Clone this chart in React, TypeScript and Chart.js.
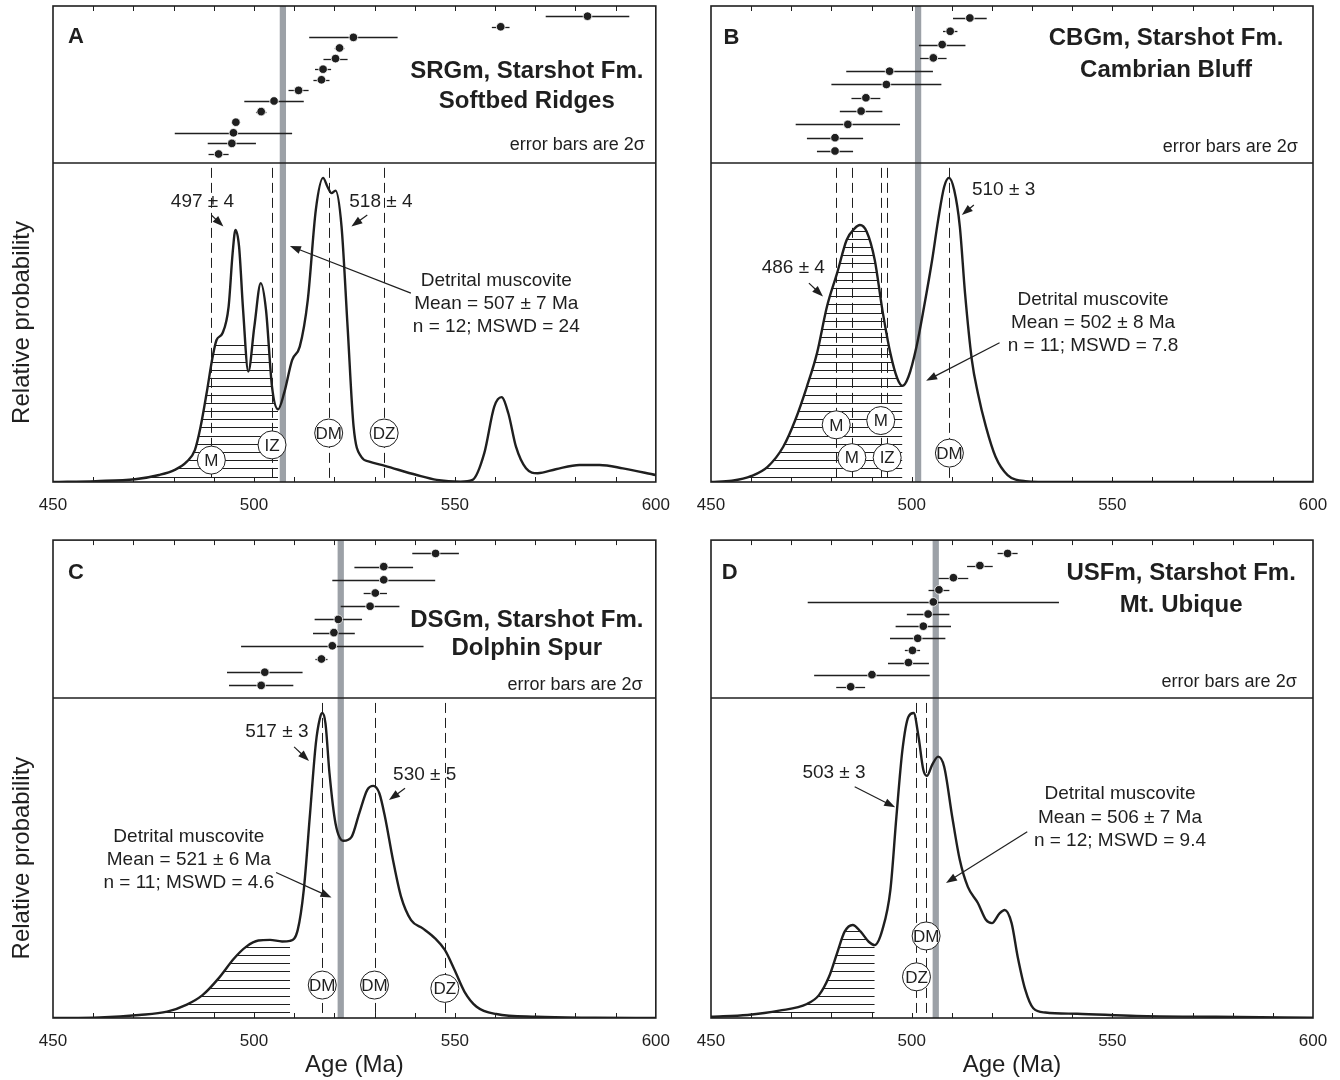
import React, { useEffect, useRef } from "react";
import { Chart, registerables } from "chart.js";

Chart.register(...registerables);

const FONT = '"Liberation Sans", Arial, Helvetica, sans-serif';
const INK = "#1f1f1f";
const GREY = "#9ca1a7";

// ---------------- Panel A : SRGm, Softbed Ridges ----------------
const curveAgeA = [450, 460.6, 470.4, 476.4, 480.3, 483.3, 485.3, 486.7, 488.2, 489.7, 490.7, 492.2, 493.7, 494.7, 495.4, 496.3, 497.3, 498.6, 500.1, 501.7, 503, 504.5, 506, 507.5, 509.5, 511.4, 513.4, 515.4, 517.2, 518.3, 519.3, 520.3, 521.8, 523.3, 524.8, 526.7, 528.7, 532.6, 540.5, 545.5, 551.4, 554.4, 557.3, 559.8, 561.6, 563.3, 565.2, 567.7, 570.6, 575.1, 581, 586, 591.8, 600];
const curveProbA = [0, 0.003, 0.009, 0.023, 0.04, 0.067, 0.105, 0.18, 0.29, 0.41, 0.467, 0.49, 0.577, 0.753, 0.829, 0.774, 0.566, 0.363, 0.511, 0.654, 0.566, 0.313, 0.239, 0.292, 0.401, 0.445, 0.599, 0.895, 1.0, 0.971, 0.95, 0.958, 0.84, 0.511, 0.182, 0.083, 0.067, 0.053, 0.023, 0.007, 0.001, 0.007, 0.094, 0.248, 0.279, 0.226, 0.116, 0.045, 0.029, 0.042, 0.056, 0.056, 0.045, 0.023];
const grainAgeA = [491.2, 494.5, 494.9, 495.5, 501.8, 505.0, 511.1, 516.8, 517.2, 520.3, 521.3, 524.75, 561.4, 583.0];
const grainErrA = [2.5, 6, 14.6, 0.6, 1.3, 7.4, 2.5, 2, 2, 3, 1.2, 11, 2.2, 10.4];
const meanA = 507.2;
const dashAgeA = [489.4, 504.5, 518.6, 532.4];
const tagTextA = ["M", "IZ", "DM", "DZ"];
const tagAgeA = [489.4, 504.5, 518.6, 532.4];
const tagProbA = [0.072, 0.122, 0.161, 0.161];
const peakTextA = ["497 ± 4", "518 ± 4"];
const peakAgeA = [487.2, 531.6];
const peakProbA = [0.922, 0.922];
const peakArrowA = [[489.4, 0.878, 492.4, 0.84], [528.2, 0.878, 524.25, 0.84]];
const noteTextA = ["Detrital muscovite", "Mean = 507 ± 7 Ma", "n = 12; MSWD = 24"];
const noteAgeA = 560.3;
const noteProbA = [0.662, 0.586, 0.511];
const noteArrowA = [539.05, 0.621, 508.95, 0.776];

// ---------------- Panel B : CBGm, Cambrian Bluff ----------------
const curveAgeB = [450, 455.2, 460.1, 464.1, 468, 471, 473.9, 476.4, 478.9, 481.4, 483.8, 485.8, 487.1, 488.8, 490.8, 492.7, 494.7, 496.4, 497.7, 499.2, 501.2, 503.1, 505.1, 506.6, 508.1, 509.3, 510.6, 512, 513.3, 515, 516.5, 518.5, 520.9, 523.9, 528.3, 536, 600];
const curveProbB = [0, 0.004, 0.02, 0.05, 0.116, 0.204, 0.314, 0.423, 0.577, 0.686, 0.796, 0.834, 0.845, 0.823, 0.73, 0.566, 0.423, 0.341, 0.316, 0.346, 0.445, 0.577, 0.73, 0.862, 0.971, 1.0, 0.96, 0.84, 0.62, 0.401, 0.292, 0.182, 0.083, 0.023, 0.003, 0, 0];
const grainAgeB = [480.9, 480.9, 484.1, 487.4, 488.6, 493.7, 494.5, 505.4, 507.6, 509.6, 514.5];
const grainErrB = [4.5, 7, 13, 5.3, 3.6, 13.7, 10.8, 3.3, 5.8, 1.8, 4.2];
const meanB = 501.6;
const dashAgeB = [481.2, 485.1, 492.3, 493.9, 509.4];
const tagTextB = ["M", "M", "M", "IZ", "DM"];
const tagAgeB = [481.2, 492.3, 485.1, 493.9, 509.4];
const tagProbB = [0.188, 0.202, 0.08, 0.08, 0.095];
const peakTextB = ["486 ± 4", "510 ± 3"];
const peakAgeB = [470.5, 522.9];
const peakProbB = [0.703, 0.961];
const peakArrowB = [[474.4, 0.654, 477.9, 0.61], [515.5, 0.911, 512.5, 0.878]];
const noteTextB = ["Detrital muscovite", "Mean = 502 ± 8 Ma", "n = 11; MSWD = 7.8"];
const noteAgeB = 545.2;
const noteProbB = [0.599, 0.522, 0.447];
const noteArrowB = [521.9, 0.458, 503.6, 0.333];

// ---------------- Panel C : DSGm, Dolphin Spur ----------------
const curveAgeC = [450, 461.6, 471.4, 478.4, 483.3, 487.2, 491.2, 495.1, 498.1, 501.1, 504, 507, 509, 510.9, 512.4, 513.9, 515.4, 516.4, 517, 517.8, 518.8, 520.3, 522.3, 524.3, 526.2, 528.2, 529.7, 531.2, 532.6, 534.6, 536.6, 539.1, 542, 545, 547.5, 549.9, 552.4, 555.4, 560.3, 570.2, 585, 600];
const curveProbC = [0, 0.002, 0.01, 0.021, 0.044, 0.075, 0.13, 0.196, 0.234, 0.254, 0.256, 0.251, 0.253, 0.289, 0.42, 0.66, 0.9, 0.982, 1.0, 0.966, 0.802, 0.638, 0.581, 0.594, 0.671, 0.748, 0.761, 0.737, 0.66, 0.518, 0.398, 0.321, 0.294, 0.262, 0.223, 0.158, 0.086, 0.037, 0.013, 0.004, 0.001, 0];
const grainAgeC = [501.8, 502.7, 516.8, 519.5, 519.9, 521.0, 528.9, 530.2, 532.3, 532.3, 545.2];
const grainErrC = [8, 9.4, 1.5, 22.7, 5.2, 5.9, 7.3, 2.9, 12.8, 7.3, 5.8];
const meanC = 521.6;
const dashAgeC = [517, 530, 547.5];
const tagTextC = ["DM", "DM", "DZ"];
const tagAgeC = [517, 530, 547.5];
const tagProbC = [0.108, 0.108, 0.097];
const peakTextC = ["517 ± 3", "530 ± 5"];
const peakAgeC = [505.7, 542.5];
const peakProbC = [0.939, 0.797];
const peakArrowC = [[510, 0.889, 513.7, 0.843], [537.6, 0.753, 533.6, 0.715]];
const noteTextC = ["Detrital muscovite", "Mean = 521 ± 6 Ma", "n = 11; MSWD = 4.6"];
const noteAgeC = 483.8;
const noteProbC = [0.594, 0.518, 0.443];
const noteArrowC = [505.5, 0.477, 519.3, 0.395];

// ---------------- Panel D : USFm, Mt. Ubique ----------------
const curveAgeD = [450, 459.1, 467, 473.9, 476.9, 479.4, 481.4, 483.3, 485.3, 487.3, 489.3, 490.8, 492.7, 494.7, 496.2, 497.7, 499.2, 500.5, 501.7, 502.9, 503.8, 505.1, 506.6, 508.1, 510.1, 512, 514, 516.5, 518.5, 520, 521.9, 523.2, 524.9, 526.4, 528.3, 530.3, 533.3, 541.2, 556, 575.8, 600];
const curveProbD = [0.004, 0.01, 0.024, 0.046, 0.075, 0.135, 0.212, 0.283, 0.305, 0.283, 0.25, 0.239, 0.289, 0.42, 0.66, 0.879, 0.988, 1.0, 0.923, 0.814, 0.794, 0.83, 0.857, 0.824, 0.66, 0.518, 0.43, 0.377, 0.322, 0.311, 0.343, 0.354, 0.311, 0.202, 0.093, 0.032, 0.018, 0.014, 0.007, 0.004, 0.001];
const grainAgeD = [484.8, 490.1, 499.2, 500.2, 501.5, 502.9, 504.1, 505.4, 506.8, 510.4, 517.0, 523.9];
const grainErrD = [3.6, 14.4, 5.1, 1.9, 6.9, 6.9, 5.3, 31.3, 2.6, 3.7, 3.2, 2.5];
const meanD = 506.0;
const dashAgeD = [501.2, 503.6];
const tagTextD = ["DM", "DZ"];
const tagAgeD = [503.6, 501.2];
const tagProbD = [0.269, 0.135];
const peakTextD = ["503 ± 3"];
const peakAgeD = [480.65];
const peakProbD = [0.804];
const peakArrowD = [[485.8, 0.758, 495.9, 0.691]];
const noteTextD = ["Detrital muscovite", "Mean = 506 ± 7 Ma", "n = 12; MSWD = 9.4"];
const noteAgeD = 551.9;
const noteProbD = [0.734, 0.658, 0.581];
const noteArrowD = [528.8, 0.611, 508.55, 0.443];

const xTickLabels = [450, 500, 550, 600];

type Panel = {
  letter: string;
  title: string[];
  curveAge: number[];
  curveProb: number[];
  grainAge: number[];
  grainErr: number[];
  mean: number;
  dashAge: number[];
  tagText: string[];
  tagAge: number[];
  tagProb: number[];
  peakText: string[];
  peakAge: number[];
  peakProb: number[];
  peakArrow: number[][];
  noteText: string[];
  noteAge: number;
  noteProb: number[];
  noteArrow: number[];
  hatchMax: number;
  hatchCap: number;
  rankMin: number;
  rankMax: number;
  box: { x: number; y: number; w: number; h: number };
  pad: { left: number; right: number; top: number; bottom: number };
  axisH: number;
  upperW: number;
  lowerW: number;
  yTitle: boolean;
  xTitle: boolean;
  letterPos: number[];
  titlePos: number[];
  notePos: number[];
};

const panels: Panel[] = [
  {
    letter: "A", title: ["SRGm, Starshot Fm.", "Softbed Ridges"],
    curveAge: curveAgeA, curveProb: curveProbA, grainAge: grainAgeA, grainErr: grainErrA,
    mean: meanA, dashAge: dashAgeA, tagText: tagTextA, tagAge: tagAgeA, tagProb: tagProbA,
    peakText: peakTextA, peakAge: peakAgeA, peakProb: peakProbA, peakArrow: peakArrowA,
    noteText: noteTextA, noteAge: noteAgeA, noteProb: noteProbA, noteArrow: noteArrowA,
    hatchMax: 506, hatchCap: 0.474, rankMin: 0.15, rankMax: 14.96,
    box: { x: 0, y: 0, w: 670, h: 535 }, pad: { left: 8, right: 14, top: 6, bottom: 0 },
    axisH: 53, upperW: 157, lowerW: 319, yTitle: true, xTitle: false,
    letterPos: [0.038, 0.2], titlePos: [0.786, 0.418, 0.61], notePos: [0.982, 0.885],
  },
  {
    letter: "B", title: ["CBGm, Starshot Fm.", "Cambrian Bluff"],
    curveAge: curveAgeB, curveProb: curveProbB, grainAge: grainAgeB, grainErr: grainErrB,
    mean: meanB, dashAge: dashAgeB, tagText: tagTextB, tagAge: tagAgeB, tagProb: tagProbB,
    peakText: peakTextB, peakAge: peakAgeB, peakProb: peakProbB, peakArrow: peakArrowB,
    noteText: noteTextB, noteAge: noteAgeB, noteProb: noteProbB, noteArrow: noteArrowB,
    hatchMax: 497.7, hatchCap: 2, rankMin: 0.098, rankMax: 11.9,
    box: { x: 670, y: 0, w: 670, h: 535 }, pad: { left: 41, right: 27, top: 6, bottom: 0 },
    axisH: 53, upperW: 157, lowerW: 319, yTitle: false, xTitle: false,
    letterPos: [0.034, 0.206], titlePos: [0.756, 0.206, 0.408], notePos: [0.975, 0.898],
  },
  {
    letter: "C", title: ["DSGm, Starshot Fm.", "Dolphin Spur"],
    curveAge: curveAgeC, curveProb: curveProbC, grainAge: grainAgeC, grainErr: grainErrC,
    mean: meanC, dashAge: dashAgeC, tagText: tagTextC, tagAge: tagAgeC, tagProb: tagProbC,
    peakText: peakTextC, peakAge: peakAgeC, peakProb: peakProbC, peakArrow: peakArrowC,
    noteText: noteTextC, noteAge: noteAgeC, noteProb: noteProbC, noteArrow: noteArrowC,
    hatchMax: 509, hatchCap: 2, rankMin: 0.04, rankMax: 12.01,
    box: { x: 0, y: 535, w: 670, h: 545 }, pad: { left: 8, right: 14, top: 5, bottom: 0 },
    axisH: 62, upperW: 158, lowerW: 320, yTitle: true, xTitle: true,
    letterPos: [0.038, 0.211], titlePos: [0.786, 0.506, 0.685], notePos: [0.978, 0.918],
  },
  {
    letter: "D", title: ["USFm, Starshot Fm.", "Mt. Ubique"],
    curveAge: curveAgeD, curveProb: curveProbD, grainAge: grainAgeD, grainErr: grainErrD,
    mean: meanD, dashAge: dashAgeD, tagText: tagTextD, tagAge: tagAgeD, tagProb: tagProbD,
    peakText: peakTextD, peakAge: peakAgeD, peakProb: peakProbD, peakArrow: peakArrowD,
    noteText: noteTextD, noteAge: noteAgeD, noteProb: noteProbD, noteArrow: noteArrowD,
    hatchMax: 490.8, hatchCap: 2, rankMin: 0.07, rankMax: 13.1,
    box: { x: 670, y: 535, w: 670, h: 545 }, pad: { left: 41, right: 27, top: 5, bottom: 0 },
    axisH: 62, upperW: 158, lowerW: 320, yTitle: false, xTitle: true,
    letterPos: [0.031, 0.211], titlePos: [0.781, 0.209, 0.411], notePos: [0.973, 0.897],
  },
];

const PROB_MAX = 1.049;
const DASH_TOP = 1.033;
const MEAN_HALF = 0.78;

function drawArrow(ctx: CanvasRenderingContext2D, x1: number, y1: number, x2: number, y2: number) {
  const ang = Math.atan2(y2 - y1, x2 - x1);
  const L = 11, W = 4;
  const c = Math.cos(ang), s = Math.sin(ang);
  ctx.beginPath();
  ctx.moveTo(x1, y1);
  ctx.lineTo(x2 - (L - 2) * c, y2 - (L - 2) * s);
  ctx.stroke();
  ctx.beginPath();
  ctx.moveTo(x2, y2);
  ctx.lineTo(x2 - L * c + W * s, y2 - L * s - W * c);
  ctx.lineTo(x2 - L * c - W * s, y2 - L * s + W * c);
  ctx.closePath();
  ctx.fill();
}

function makeDecor(p: Panel) {
  return {
    id: "decor" + p.letter,
    beforeDatasetsDraw(chart: any) {
      const ctx: CanvasRenderingContext2D = chart.ctx;
      const area = chart.chartArea;
      const x = chart.scales.x, yP = chart.scales.yProb, yR = chart.scales.yRank;
      const base = yP.getPixelForValue(0);

      // hatch under the curve
      const meta = chart.getDatasetMeta(0);
      const line: any = meta.dataset;
      const pts: any[] = meta.data;
      if (pts && pts.length) {
        ctx.save();
        ctx.beginPath();
        if (line && typeof line.path === "function") {
          if (typeof line.updateControlPoints === "function") line.updateControlPoints(area, "x");
          line.path(ctx);
        } else {
          pts.forEach((pt, i) => (i ? ctx.lineTo(pt.x, pt.y) : ctx.moveTo(pt.x, pt.y)));
        }
        ctx.lineTo(pts[pts.length - 1].x, base);
        ctx.lineTo(pts[0].x, base);
        ctx.closePath();
        ctx.clip();
        const xr = x.getPixelForValue(p.hatchMax);
        const yc = yP.getPixelForValue(Math.min(p.hatchCap, PROB_MAX));
        ctx.beginPath();
        ctx.rect(area.left, yc, xr - area.left, base - yc);
        ctx.clip();
        ctx.strokeStyle = INK;
        ctx.lineWidth = 1;
        ctx.beginPath();
        for (let yy = base - 5.5; yy > yc; yy -= 8.2) {
          ctx.moveTo(area.left, Math.round(yy) + 0.5);
          ctx.lineTo(xr, Math.round(yy) + 0.5);
        }
        ctx.stroke();
        ctx.restore();
      }

      // dashed reference lines
      ctx.save();
      ctx.strokeStyle = INK;
      ctx.lineWidth = 1;
      ctx.setLineDash([10, 5]);
      for (const a of p.dashAge) {
        const px = Math.round(x.getPixelForValue(a)) + 0.5;
        ctx.beginPath();
        ctx.moveTo(px, yP.getPixelForValue(DASH_TOP));
        ctx.lineTo(px, base);
        ctx.stroke();
      }
      ctx.restore();

      // grey mean bar
      ctx.save();
      ctx.fillStyle = GREY;
      const g1 = x.getPixelForValue(p.mean - MEAN_HALF);
      const g2 = x.getPixelForValue(p.mean + MEAN_HALF);
      ctx.fillRect(g1, area.top, g2 - g1, area.bottom - area.top);
      ctx.restore();

      // error bars
      ctx.save();
      ctx.strokeStyle = INK;
      ctx.lineWidth = 1.3;
      p.grainAge.forEach((a, i) => {
        const py = Math.round(yR.getPixelForValue(i + 1)) + 0.5;
        ctx.beginPath();
        ctx.moveTo(x.getPixelForValue(a - p.grainErr[i]), py);
        ctx.lineTo(x.getPixelForValue(a + p.grainErr[i]), py);
        ctx.stroke();
      });
      ctx.restore();
    },
    afterDatasetsDraw(chart: any) {
      const ctx: CanvasRenderingContext2D = chart.ctx;
      const x = chart.scales.x, yP = chart.scales.yProb;
      ctx.save();
      ctx.lineWidth = 1;
      ctx.strokeStyle = INK;
      ctx.font = `17px ${FONT}`;
      ctx.textAlign = "center";
      ctx.textBaseline = "middle";
      p.tagText.forEach((t, i) => {
        const cx = x.getPixelForValue(p.tagAge[i]);
        const cy = yP.getPixelForValue(p.tagProb[i]);
        ctx.beginPath();
        ctx.arc(cx, cy, 14, 0, Math.PI * 2);
        ctx.fillStyle = "#fff";
        ctx.fill();
        ctx.stroke();
        ctx.fillStyle = INK;
        ctx.fillText(t, cx, cy + 1);
      });
      ctx.restore();
    },
    afterDraw(chart: any) {
      const ctx: CanvasRenderingContext2D = chart.ctx;
      const area = chart.chartArea;
      const x = chart.scales.x, yP = chart.scales.yProb;
      const base = yP.getPixelForValue(0);
      const divider = yP.top;
      const w = area.right - area.left;
      const hUp = divider - area.top;

      ctx.save();
      ctx.strokeStyle = INK;
      // ticks (library tick values)
      ctx.lineWidth = 1;
      ctx.beginPath();
      for (const t of x.ticks) {
        if (t.value <= x.min || t.value >= x.max) continue;
        const px = Math.round(x.getPixelForValue(t.value)) + 0.5;
        ctx.moveTo(px, area.top);
        ctx.lineTo(px, area.top + 5);
        ctx.moveTo(px, base);
        ctx.lineTo(px, base - 5);
      }
      ctx.stroke();
      // frame and divider
      ctx.lineWidth = 1.6;
      ctx.strokeRect(area.left, area.top, w, area.bottom - area.top);
      ctx.beginPath();
      ctx.moveTo(area.left, divider);
      ctx.lineTo(area.right, divider);
      ctx.stroke();

      // upper box texts
      ctx.fillStyle = INK;
      ctx.textBaseline = "middle";
      ctx.textAlign = "center";
      ctx.font = `bold 22px ${FONT}`;
      ctx.fillText(p.letter, area.left + p.letterPos[0] * w, area.top + p.letterPos[1] * hUp);
      ctx.font = `bold 24px ${FONT}`;
      ctx.fillText(p.title[0], area.left + p.titlePos[0] * w, area.top + p.titlePos[1] * hUp);
      ctx.fillText(p.title[1], area.left + p.titlePos[0] * w, area.top + p.titlePos[2] * hUp);
      ctx.font = `18px ${FONT}`;
      ctx.textAlign = "right";
      ctx.fillText("error bars are 2σ", area.left + p.notePos[0] * w, area.top + p.notePos[1] * hUp);

      // lower box annotations
      ctx.textAlign = "center";
      ctx.font = `19px ${FONT}`;
      ctx.lineWidth = 1.2;
      p.peakText.forEach((t, i) => {
        ctx.fillText(t, x.getPixelForValue(p.peakAge[i]), yP.getPixelForValue(p.peakProb[i]));
        const a = p.peakArrow[i];
        drawArrow(ctx, x.getPixelForValue(a[0]), yP.getPixelForValue(a[1]), x.getPixelForValue(a[2]), yP.getPixelForValue(a[3]));
      });
      p.noteText.forEach((t, i) => {
        ctx.fillText(t, x.getPixelForValue(p.noteAge), yP.getPixelForValue(p.noteProb[i]));
      });
      const na = p.noteArrow;
      drawArrow(ctx, x.getPixelForValue(na[0]), yP.getPixelForValue(na[1]), x.getPixelForValue(na[2]), yP.getPixelForValue(na[3]));
      ctx.restore();
    },
  };
}

function PanelChart({ p }: { p: Panel }) {
  const ref = useRef<HTMLCanvasElement>(null);
  useEffect(() => {
    if (!ref.current) return;
    const curve = p.curveAge.map((a, i) => ({ x: a, y: p.curveProb[i] }));
    const grains = p.grainAge.map((a, i) => ({ x: a, y: i + 1 }));
    const chart = new Chart(ref.current, {
      type: "line",
      data: {
        datasets: [
          {
            type: "line",
            data: curve,
            xAxisID: "x",
            yAxisID: "yProb",
            borderColor: INK,
            borderWidth: 2.4,
            pointRadius: 0,
            cubicInterpolationMode: "monotone",
            fill: false,
            order: 2,
          } as any,
          {
            type: "scatter",
            data: grains,
            xAxisID: "x",
            yAxisID: "yRank",
            pointRadius: 4.3,
            pointBackgroundColor: INK,
            pointBorderColor: "#ffffff",
            pointBorderWidth: 0.8,
            showLine: false,
            order: 1,
          } as any,
        ],
      },
      options: {
        responsive: false,
        maintainAspectRatio: false,
        animation: false,
        events: [],
        layout: { padding: p.pad },
        plugins: { legend: { display: false }, tooltip: { enabled: false }, title: { display: false } },
        scales: {
          x: {
            type: "linear",
            position: "bottom",
            min: 450,
            max: 600,
            grid: { display: false, drawTicks: true, tickLength: 13 },
            border: { display: false },
            ticks: {
              stepSize: 10,
              autoSkip: false,
              maxRotation: 0,
              padding: 0,
              color: INK,
              font: { family: FONT, size: 17 },
              callback: (v: any) => (xTickLabels.includes(Number(v)) ? String(v) : ""),
            },
            title: {
              display: p.xTitle,
              text: "Age (Ma)",
              color: INK,
              font: { family: FONT, size: 24 },
              padding: { top: 0, bottom: 0 },
            },
            afterFit: (s: any) => {
              s.height = p.axisH;
            },
          },
          yProb: {
            type: "linear",
            position: "left",
            stack: "panel",
            stackWeight: p.lowerW,
            weight: 1,
            min: 0,
            max: PROB_MAX,
            display: p.yTitle,
            grid: { display: false, drawTicks: false },
            border: { display: false },
            ticks: { display: false },
            title: {
              display: true,
              text: "Relative probability",
              color: INK,
              font: { family: FONT, size: 24 },
              padding: { top: 0, bottom: 0 },
            },
            afterFit: (s: any) => {
              s.width = p.yTitle ? 45 : 0;
            },
          },
          yRank: {
            type: "linear",
            position: "left",
            stack: "panel",
            stackWeight: p.upperW,
            weight: 2,
            min: p.rankMin,
            max: p.rankMax,
            display: false,
            afterFit: (s: any) => {
              s.width = 0;
            },
          },
        } as any,
      },
      plugins: [makeDecor(p) as any],
    });
    return () => chart.destroy();
  }, [p]);
  return (
    <canvas
      ref={ref}
      width={p.box.w}
      height={p.box.h}
      style={{ position: "absolute", left: p.box.x, top: p.box.y, width: p.box.w, height: p.box.h }}
    />
  );
}

export default function App() {
  return (
    <div style={{ position: "absolute", left: 0, top: 0, width: 1340, height: 1080, background: "#ffffff" }}>
      {panels.map((p) => (
        <PanelChart key={p.letter} p={p} />
      ))}
    </div>
  );
}
